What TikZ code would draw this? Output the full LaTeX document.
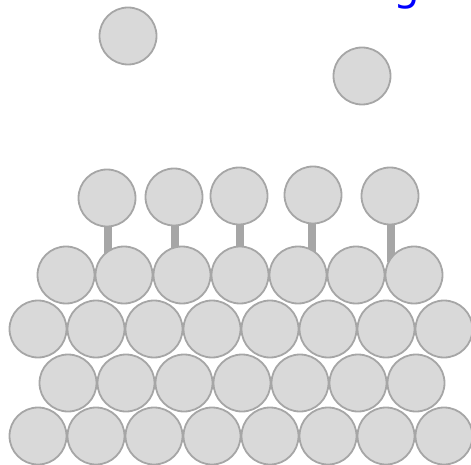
\documentclass[tikz,border=0pt]{standalone}
\usepackage{fontspec}
\newfontfamily\gfont{DejaVu Sans}
\definecolor{ballfill}{HTML}{D9D9D9}
\definecolor{ballline}{HTML}{A6A6A6}
\begin{document}
\begin{tikzpicture}[x=1pt,y=-1pt,
  ball/.style={circle,draw=ballline,fill=ballfill,line width=1.8pt,minimum size=57pt,inner sep=0pt},
  stem/.style={draw=ballline,line width=8pt}]
\useasboundingbox (0,0) rectangle (471,465);
\clip (0,0) rectangle (471,465);
% title fragment
\node[text=blue,font=\gfont\fontsize{42}{42}\selectfont,anchor=base] (t) at (407,1) {g};
% free balls
\node[ball] (f1) at (128,36) {};
\node[ball] (f2) at (362,76) {};
% stems (drawn first, behind balls)
\coordinate (s1b) at (108,262);
\coordinate (s2b) at (175,262);
\coordinate (s3b) at (240,262);
\coordinate (s4b) at (312,262);
\coordinate (s5b) at (391,262);
\coordinate (s1t) at (108,210);
\coordinate (s2t) at (175,210);
\coordinate (s3t) at (240,210);
\coordinate (s4t) at (312,210);
\coordinate (s5t) at (391,210);
\foreach \i in {1,...,5} \draw[stem] (s\i t) -- (s\i b);
% bottom rows
\foreach \x [count=\i] in {38,96,154,212,270,328,386,444}
  \node[ball] (d\i) at (\x,436) {};
\foreach \x [count=\i] in {68,126,184,242,300,358,416}
  \node[ball] (c\i) at (\x,383) {};
\foreach \x [count=\i] in {38,96,154,212,270,328,386,444}
  \node[ball] (b\i) at (\x,329) {};
\foreach \x [count=\i] in {66,124,182,240,298,356,414}
  \node[ball] (a\i) at (\x,275) {};
% top balls on stems
\node[ball] (h1) at (107,198) {};
\node[ball] (h2) at (174,197) {};
\node[ball] (h3) at (239,196) {};
\node[ball] (h4) at (313,195) {};
\node[ball] (h5) at (390,196) {};
\end{tikzpicture}
\end{document}
